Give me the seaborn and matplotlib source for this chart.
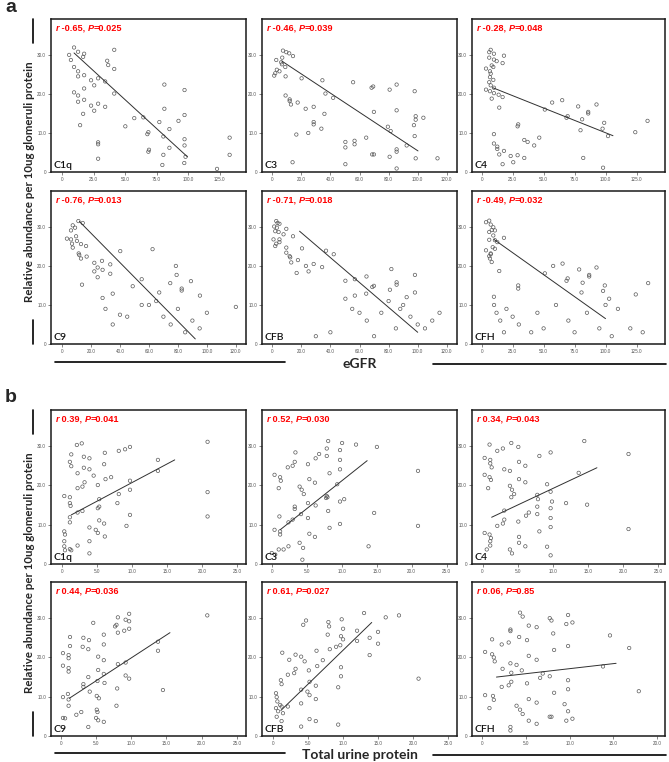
import numpy as np
import pandas as pd
import matplotlib
matplotlib.use('Agg')
import matplotlib.pyplot as plt
import seaborn as sns
from matplotlib.offsetbox import TextArea, HPacker, AnchoredOffsetbox
from matplotlib.lines import Line2D

sns.set_style('white')
plt.rcParams['font.family'] = ['Liberation Sans', 'DejaVu Sans']

# ---- panel a: eGFR ----
a_c1q_x = [9.5, 12.7, 17.5, 5.6, 7, 9.5, 12.7, 12.7, 17.5, 16.7, 23, 28.6, 25.5, 35.8, 36.6, 41.4, 41.4, 34.2, 41.4, 9.5,
           12.7, 12.7, 17.5, 17.5, 16.7, 23, 25.5, 28.6, 34.2, 14.3, 28.6, 28.6, 50.2, 57.3, 64.5, 68.5, 67.7, 77.2, 81.2, 81.2,
           85.2, 80.4, 92.4, 97.2, 97.2, 97.2, 97.2, 68.5, 69, 80.4, 85.2, 98, 133, 133, 28.6, 79.6, 97, 123]
a_c1q_y = [31.9, 30.8, 30.3, 30, 28.7, 26.9, 25.8, 24.5, 24.8, 29.5, 23.5, 24, 22.2, 28.5, 27.4, 31.3, 26.4, 23.2, 20.1, 20.4,
           19.6, 18, 18.5, 21.4, 14.9, 17, 15.7, 17.5, 16.7, 12, 7.6, 7.1, 11.7, 13.8, 14, 10.2, 9.7, 12.8, 22.4, 16.2,
           11, 9.1, 13.1, 21, 14.6, 8.4, 6.8, 5.2, 5.7, 4.4, 6.2, 3.9, 8.8, 4.4, 3.4, 1.8, 2.3, 0.8]
a_c1q_fit = ([9.5, 99.5], [30.5, 3.9])

a_c3_x = [7.4, 9.7, 11.7, 14.3, 2.8, 6.9, 6.2, 6.7, 9, 3.2, 2.1, 5, 1.4, 9.2, 20.2, 34.5, 55.6, 69.4, 68.3, 85.5,
          80.7, 97.9, 9.2, 12, 12, 12.9, 17.5, 23, 28.5, 36.6, 41.9, 35.9, 28.5, 28.5, 33.8, 24.8, 16.6, 69.9, 85.5, 79.5,
          81.4, 98.6, 98.6, 103.9, 97.4, 97.9, 64.6, 50.3, 50.3, 56.6, 56.6, 85.5, 85.5, 92.4, 68.7, 69.9, 80.7, 98.6, 113.6, 14,
          50.3, 85.5]
a_c3_y = [31.1, 30.7, 30.4, 29.7, 28.7, 29.3, 28.1, 27.6, 26.9, 26.2, 25.3, 25.8, 24.7, 24.5, 24, 23.5, 23, 21.9, 21.6, 22.4,
          21.1, 20.7, 19.6, 18.6, 18.2, 17.3, 17.8, 16.2, 16.7, 20.1, 19, 14.9, 12.8, 12.2, 11.1, 10, 9.6, 15.4, 15.8, 11.6,
          10.5, 14.3, 13.4, 13.9, 12, 9.2, 8.8, 7.7, 6.3, 8, 7.1, 5.8, 5.2, 6.8, 4.5, 4.5, 3.9, 3.5, 3.5, 2.5,
          2, 0.9]
a_c3_fit = ([6.7, 100.2], [28.4, 5.4])

a_c4_x = [7.3, 6.1, 9.9, 18, 6.1, 9.9, 12.1, 16.9, 8.1, 9.4, 3.5, 6.7, 7.3, 9.4, 6.7, 6.1, 7.3, 9.9, 3.5, 6.7,
          9.9, 13.7, 16.9, 8.1, 14.2, 56.9, 65, 51, 69.4, 68.5, 77.9, 86, 86, 92.7, 81.1, 98.9, 97.6, 79.8, 102, 124,
          133.9, 29.5, 29, 9.9, 9.9, 12.6, 12.6, 18, 14.2, 23.4, 29, 34.4, 34.4, 37.1, 42.4, 46.5, 82, 16.9, 25.5, 98]
a_c4_y = [31.3, 30.7, 30.3, 29.8, 29.3, 28.8, 28.4, 27.9, 27.3, 26.9, 26.5, 25.8, 25.2, 23.6, 24.3, 23, 22.2, 21.6, 21.1, 20.7,
          20.2, 19.8, 19.2, 18.8, 16.5, 17.8, 18.4, 16, 14.3, 13.9, 16.8, 15.4, 15, 17.3, 13.5, 12.6, 11.1, 10.7, 9.2, 10.2,
          13.1, 12.2, 11.7, 9.7, 7.3, 6.5, 5.9, 5.4, 4.5, 4.1, 4.3, 3.6, 8.2, 7.7, 6.8, 8.8, 3.6, 2, 2.5, 1.1]
a_c4_fit = ([8.9, 106], [21.6, 9.3])

a_c9_x = [11.3, 14.3, 7.4, 9, 6.2, 3.4, 6.2, 9.7, 6.9, 10.3, 13.1, 16.6, 7.4, 11.5, 13.1, 17, 11.9, 22.3, 27.6, 33.3,
          24.6, 22.3, 28, 24.6, 33.3, 40.2, 62.5, 13.8, 48.8, 55, 35, 28, 67.1, 74.7, 78.6, 79.1, 82.6, 82.6, 89, 95.2,
          60, 45, 30, 35, 70, 80, 90, 95, 100, 85, 55, 120, 40, 75, 65]
a_c9_y = [31.5, 31, 30.4, 29.8, 29.1, 27, 26.8, 27.6, 25.7, 26.4, 25.6, 25.1, 24.7, 23.2, 21.9, 22.4, 22.8, 20.8, 21.3, 20.4,
          19.6, 18.6, 19, 17.1, 18, 23.8, 24.3, 15.2, 14.8, 16.6, 12.9, 11.8, 13.2, 15.6, 20, 17.7, 14.2, 13.7, 16.1, 12.4,
          10, 7, 9, 5, 7, 9, 6, 4, 8, 3, 10, 9.5, 7.5, 5, 11]
a_c9_fit = ([12, 92], [31.4, 1.3])

a_cfb_x = [2.8, 3.7, 5, 1.4, 3.2, 2.1, 4.4, 7.8, 9.7, 0.9, 2.8, 5, 2.1, 5, 14.3, 9.7, 9.7, 12.4, 12, 13.1,
           17.7, 20.5, 16.8, 23.2, 25, 28.5, 34.3, 37, 42.3, 50.3, 56.8, 64.8, 68.8, 69.9, 64.6, 56.8, 50.3, 81.9, 85.5, 85.5,
           80.9, 92.4, 98.1, 98.1, 55, 60, 40, 65, 75, 85, 90, 95, 100, 105, 110, 115, 70, 30, 80, 88]
a_cfb_y = [31.5, 31, 30.8, 30.1, 29.8, 28.9, 28.7, 28.1, 29.5, 26.8, 25.7, 26.1, 25.1, 26.8, 27.6, 24.7, 23.4, 22.2, 22.5, 20.9,
           21.5, 24.5, 18.2, 20, 18.6, 20.5, 19.7, 23.9, 23, 16.2, 16.6, 17.3, 14.6, 14.9, 12.9, 12.4, 11.6, 19.2, 15.8, 15.2,
           13.9, 12, 17.7, 13.2, 9, 8, 3, 6, 8, 4, 10, 7, 5, 4, 6, 8, 2, 2, 11, 9]
a_cfb_fit = ([18.8, 100], [28.9, 3])

a_cfh_x = [6.1, 3.5, 7.3, 9.4, 8.1, 10.7, 6.1, 9.4, 18, 6.1, 10.7, 12.6, 8.9, 10.7, 3.5, 7.3, 6.1, 6.7, 8.1, 7.3,
           14.2, 51, 57.7, 65.3, 69.4, 68.5, 78.7, 81.5, 86.8, 86.8, 92.7, 99.4, 98, 80.6, 124.4, 134.4, 29.5, 29.5, 9.9, 102.9,
           10, 12, 15, 20, 25, 30, 40, 45, 50, 60, 70, 75, 85, 95, 105, 110, 120, 130, 100, 18]
a_cfh_y = [31.6, 31.2, 30.6, 29.9, 29.2, 29.1, 28.7, 27.8, 27.2, 26.7, 26.6, 26.1, 24.8, 24.4, 24, 23.2, 22.5, 21.9, 21, 23,
           18.7, 18.1, 20, 20.6, 16.8, 16.2, 19.1, 15.7, 17.7, 17.3, 19.6, 15, 13.6, 13.2, 12.7, 15.6, 15, 14.2, 12.1, 11.6,
           10, 8, 6, 9, 7, 5, 3, 8, 4, 10, 6, 3, 8, 4, 2, 9, 4, 3, 10, 3]
a_cfh_fit = ([9.9, 100], [26.8, 6.5])

# ---- panel b: total urine protein ----
b_c1q_x = [20.8, 2.1, 2.8, 6.1, 8.1, 9, 9.7, 1.3, 3.1, 3.9, 1.1, 1.3, 3.1, 3.9, 6, 2.2, 4.5, 13.7, 13.7, 7,
           6.2, 9.7, 9.7, 2.2, 2.9, 3.2, 5.1, 8.1, 0.3, 1.1, 1.1, 1.2, 5.3, 7.9, 5.1, 5.3, 2.2, 2.9, 9.7, 9.2,
           1.1, 1.1, 5.3, 6, 20.8, 20.8, 3.9, 4.8, 5.1, 6.1, 0.3, 0.4, 0.3, 0.4, 1.1, 1.3, 2.2, 3.9, 3.9, 0.3]
b_c1q_y = [31.1, 30.3, 30.7, 28.3, 28.8, 29.2, 29.8, 27.9, 27.3, 26.9, 26, 24.9, 24.5, 24.1, 25.4, 23.1, 22.5, 26.5, 23.7, 22.1,
           21.6, 21.2, 18.9, 19.3, 19.7, 20.8, 20.1, 17.8, 17.3, 17, 15.5, 14.8, 16.5, 15.5, 14.2, 14.6, 13.1, 13.5, 12.5, 9.7,
           11.9, 10.6, 11.1, 10.3, 18.3, 12.1, 9.3, 8.7, 7.9, 7, 8.3, 7.5, 4.5, 3.5, 3.8, 3.5, 4.7, 5.8, 2.7, 5.8]
b_c1q_fit = ([1.3, 16.1], [12.5, 26.5])

b_c3_x = [8, 10, 12, 15, 7.8, 9.7, 3.3, 6.7, 6.2, 7.8, 9.7, 3.2, 2.9, 2.2, 5.1, 9.7, 8.2, 20.9, 0.3, 1.1,
          1.2, 5.3, 6.1, 0.9, 3.9, 4.2, 4.5, 9.3, 7.8, 7.9, 7.7, 10.3, 9.7, 5.1, 6.2, 3.2, 3.2, 4.1, 8, 1,
          2.9, 2.3, 5.1, 14.6, 9.7, 8.2, 20.9, 0.3, 1.1, 1.1, 5.3, 6.1, -0.1, 0.9, 1.6, 2.3, 3.9, 4.4, 4.3, 13.8, 0.4]
b_c3_y = [31.3, 30.8, 30.4, 29.8, 29.4, 29, 28.4, 28, 26.9, 27.5, 26.5, 26, 25, 24.6, 25.4, 24.1, 23.1, 23.7, 22.7, 22.1,
          21.2, 21.6, 20.7, 19.3, 19.7, 18.9, 17.8, 20.3, 17.3, 17, 16.8, 16.5, 15.9, 15.5, 14.9, 14.6, 14, 12.7, 13.5, 12.1,
          11.3, 10.6, 11.7, 13, 10.2, 9.2, 9.7, 8.7, 8.3, 7.5, 7.7, 6.9, 2.8, 3.7, 3.7, 4.5, 5.4, 4.1, 1.1, 4.5, 2.4]
b_c3_fit = ([1.1, 13.6], [8.7, 26.3])

b_c4_x = [1, 4.1, 5.1, 2.9, 2.1, 14.5, 9.7, 8.1, 20.8, 0.3, 1.1, 1.1, 1.3, 5.2, 6.1, 3.1, 3.9, 13.7, 0.3, 1,
          1.2, 5.2, 6.1, 9.2, 0.8, 3.9, 4.2, 4.5, 4.1, 9.7, 7.8, 7.9, 9.9, 11.9, 14.9, 7.8, 9.7, 3.1, 6.6, 7.8,
          6.2, 9.7, 3.1, 5.1, 2.9, 2.1, 9.7, 20.8, 0.3, 1, 1.2, 5.2, 8.1, 1.1, 1.1, 0.6, 3.9, 4.2, 5.2, 6.1,
          9.2, 9.7]
b_c4_y = [30.4, 30.8, 29.8, 29.4, 28.8, 31.3, 28.4, 27.5, 28, 27, 26.5, 25.6, 24.6, 26, 25, 24.1, 23.7, 23.2, 22.7, 22.1,
          21.4, 21.6, 20.8, 20.3, 19.3, 19.9, 18.9, 17.8, 17, 18.4, 17.6, 16.5, 15.9, 15.5, 15.1, 14.6, 14.2, 13.6, 13.1, 12.7,
          12.3, 11.7, 11.3, 10.8, 10.3, 9.7, 9.4, 8.9, 7.9, 7.5, 6.6, 6.9, 8.3, 5.8, 4.7, 3.7, 3.7, 2.7, 5.4, 4.5,
          4.4, 2.2]
b_c4_fit = ([1.3, 16.3], [11.9, 24.5])

b_c9_x = [20.8, 9.7, 9.7, 9.2, 8.1, 9, 9.7, 8.1, 7.7, 7.9, 4.6, 6.1, 6.1, 3.2, 4, 3.1, 3.9, 1.3, 1.3, 0.3,
          1.1, 1.1, 5.3, 6.1, 13.8, 13.8, 0.3, 1.1, 1.1, 5.3, 8.1, 9.2, 6.1, 3.9, 9.2, 9.7, 5.2, 6.2, 3.2, 3.2,
          4.1, 8, 14.5, 0.3, 1, 1.1, 1.1, 5.1, 5.4, 5.1, 5.2, 5, 5.3, 6.1, 7.9, 2.2, 2.9, 0.3, 0.6, 3.9]
b_c9_y = [30.7, 31.1, 29.2, 29.6, 30.2, 26.8, 27.3, 26.3, 27.9, 28.3, 28.8, 25.8, 23.3, 25, 24.4, 22.7, 22.1, 25.2, 22.9, 21.1,
          20.6, 19.8, 20.2, 19.3, 24, 21.7, 17.9, 17.3, 16.4, 16.8, 18.3, 18.7, 15.8, 15, 15.4, 14.6, 14, 13.5, 13.2, 12.5,
          11.3, 12.1, 11.7, 9.9, 10.7, 9.3, 7.7, 10.2, 9.6, 6.7, 6.1, 4.6, 4, 3.6, 7.7, 5.4, 6.1, 4.6, 4.5, 2.3]
b_c9_fit = ([1.2, 15.5], [9.6, 26.3])

b_cfb_x = [13, 18, 16.1, 4.7, 4.3, 7.9, 8, 9.8, 10, 12, 15, 7.8, 9.7, 10, 12, 13.8, 15, 9, 8.1, 9.6,
           6.2, 1.3, 3.2, 4, 2.3, 4.5, 13.8, 7.1, 6.3, 3.2, 3, 2.1, 5.1, 9.7, 9.7, 1.1, 1.2, 5.2, 6.1, 4,
           9.3, 20.8, 4.9, 5.2, 6.1, 0.4, 0.5, 0.6, 1, 0.4, 0.7, 1.2, 1.4, 0.5, 1.2, 2.1, 4, 5.2, 6.1, 4,
           9.3]
b_cfb_y = [31.3, 30.7, 30.2, 29.4, 28.3, 29, 27.9, 29.7, 27.3, 26.8, 26.5, 25.8, 25.4, 24.6, 24.2, 25, 23.5, 22.7, 22.1, 23.1,
           21.7, 21.2, 20.7, 20.2, 19.4, 19, 20.6, 19.3, 17.8, 17.1, 16, 15.6, 16.7, 17.5, 15.2, 14.2, 13.2, 13.8, 12.8, 11.8,
           12.4, 14.6, 11.3, 10.4, 9.4, 10.9, 9.9, 8.8, 7.9, 7.1, 6.3, 7.5, 5.8, 4.9, 3.8, 7.5, 8.3, 4.3, 3.8, 2.4,
           2.9]
b_cfb_fit = ([1.1, 14.1], [6.5, 28.9])

b_cfh_x = [4.3, 4.6, 9.8, 7.7, 7.9, 9.6, 10.3, 5.3, 6.2, 3.2, 3.2, 8.1, 4.2, 1.1, 5.1, 3, 2.2, 14.6, 16.8, 8.2,
           9.8, 0.3, 1.1, 1.3, 1.4, 5.3, 6.2, 3.2, 3.9, 2.3, 4.5, 3.3, 6.9, 7.7, 6.6, 13.8, 9.8, 3.3, 3, 2.2,
           5.1, 9.8, 8.2, 0.3, 1.2, 1.3, 5.3, 6.2, 17.9, 0.8, 3.9, 4.3, 4.6, 9.4, 9.8, 10.3, 9.6, 7.7, 7.9, 5.3,
           6.2, 3.2, 3.2]
b_cfh_y = [31.4, 30.4, 30.8, 30, 29.4, 28.5, 28.9, 28.1, 27.7, 27.1, 26.7, 26.1, 25.2, 24.6, 24.4, 23.8, 23.3, 25.6, 22.4, 21.9,
           22.9, 21.4, 20.8, 20, 19, 20.4, 19.4, 18.5, 18.1, 17.1, 16.7, 16.1, 15.9, 15.2, 14.8, 17.7, 14.2, 13.8, 12.9, 12.5,
           13.4, 11.9, 11, 10.4, 10.2, 9.2, 9.4, 8.5, 11.4, 7.1, 7.7, 6.7, 5.6, 8.1, 6.3, 4.4, 3.9, 4.9, 4.9, 3.9,
           3.1, 2.3, 1.4]
b_cfh_fit = ([1.6, 15.3], [15, 18.5])

names = ['C1q', 'C3', 'C4', 'C9', 'CFB', 'CFH']
a_stats = [('-0.65', '0.025'), ('-0.46', '0.039'), ('-0.28', '0.048'),
           ('-0.76', '0.013'), ('-0.71', '0.018'), ('-0.49', '0.032')]
b_stats = [('0.39', '0.041'), ('0.52', '0.030'), ('0.34', '0.043'),
           ('0.44', '0.036'), ('0.61', '0.027'), ('0.06', '0.85')]

a_data = [(a_c1q_x, a_c1q_y, a_c1q_fit), (a_c3_x, a_c3_y, a_c3_fit), (a_c4_x, a_c4_y, a_c4_fit),
          (a_c9_x, a_c9_y, a_c9_fit), (a_cfb_x, a_cfb_y, a_cfb_fit), (a_cfh_x, a_cfh_y, a_cfh_fit)]
b_data = [(b_c1q_x, b_c1q_y, b_c1q_fit), (b_c3_x, b_c3_y, b_c3_fit), (b_c4_x, b_c4_y, b_c4_fit),
          (b_c9_x, b_c9_y, b_c9_fit), (b_cfb_x, b_cfb_y, b_cfb_fit), (b_cfh_x, b_cfh_y, b_cfh_fit)]

ticks_25 = [0, 25, 50, 75, 100, 125]
ticks_20 = [0, 20, 40, 60, 80, 100, 120]
ticks_5 = [0, 5, 10, 15, 20, 25]
ticks_5s = [0, 5, 10, 15, 20]
a_xticks = [ticks_25, ticks_20, ticks_25, ticks_20, ticks_20, ticks_25]
a_xlims = [(-8.8, 146), (-7, 127), (-7.8, 148), (-7.6, 127), (-7, 127), (-7.8, 148)]
b_xticks = [ticks_5, ticks_5, ticks_5, ticks_5, ticks_5, ticks_5s]
b_xlims = [(-1.6, 26.3), (-1.5, 26.5), (-1.5, 26), (-1.4, 26.3), (-1.6, 26.3), (-1.2, 20.9)]
yticks = [0, 10, 20, 30]

W, H = 669, 762
fig = plt.figure(figsize=(W / 100, H / 100), dpi=100)

cols = [(51, 246), (262, 457), (472, 665)]
rows = [(19, 172), (191, 344), (410, 564), (582, 736)]


def fmt(v):
    return '0' if v == 0 else f'{v:.1f}'


def panel(x0, x1, y0, y1, xs, ys, fit, xt, xl, name, stat):
    ax = fig.add_axes([x0 / W, 1 - y1 / H, (x1 - x0) / W, (y1 - y0) / H])
    df = pd.DataFrame({'x': xs, 'y': ys})
    sns.scatterplot(data=df, x='x', y='y', ax=ax, marker='o', s=6,
                    facecolor='none', edgecolor='#5a5a5a', linewidth=0.5)
    sns.lineplot(x=fit[0], y=fit[1], ax=ax, color='#303030', linewidth=0.7)
    ax.set_xlim(*xl)
    ax.set_ylim(0, 39.2)
    ax.set_xticks(xt)
    ax.set_xticklabels([fmt(v) for v in xt])
    ax.set_yticks(yticks)
    ax.set_yticklabels([fmt(v) for v in yticks])
    ax.tick_params(labelsize=3.3, labelcolor='#555555', length=2, width=0.5,
                   color='#555555', pad=1.5, bottom=True, left=True)
    ax.set_xlabel('')
    ax.set_ylabel('')
    for s in ax.spines.values():
        s.set_color('#1a1a1a')
        s.set_linewidth(1.1)
    tp = dict(color='red', weight='bold', size=6.6)
    ip = dict(color='red', weight='bold', size=6.6, style='italic')
    box = HPacker(children=[TextArea('r', textprops=ip), TextArea(' ' + stat[0] + ', ', textprops=tp),
                            TextArea('P', textprops=ip), TextArea('=' + stat[1], textprops=tp)],
                  align='baseline', pad=0, sep=0)
    ab = AnchoredOffsetbox(loc='upper left', child=box, pad=0.1, borderpad=0.25, frameon=False)
    ax.add_artist(ab)
    ax.text(0.015, 0.012, name, transform=ax.transAxes, ha='left', va='bottom',
            fontsize=7.5, family=['Lato', 'DejaVu Sans'], weight='semibold', color='#111111')
    return ax


for i in range(6):
    r, c = divmod(i, 3)
    xs, ys, fit = a_data[i]
    panel(cols[c][0], cols[c][1], rows[r][0], rows[r][1], xs, ys, fit, a_xticks[i], a_xlims[i], names[i], a_stats[i])
    xs, ys, fit = b_data[i]
    panel(cols[c][0], cols[c][1], rows[r + 2][0], rows[r + 2][1], xs, ys, fit, b_xticks[i], b_xlims[i], names[i], b_stats[i])

# panel letters
fig.text(5 / W, 1 - 8 / H, 'a', fontsize=14, weight='bold', va='center', ha='left')
fig.text(5 / W, 1 - 398 / H, 'b', fontsize=14, weight='bold', va='center', ha='left')

# y labels with flanking lines
ylab = 'Relative abundance per 10ug glomeruli protein'
for top, bot in [(19, 344), (410, 736)]:
    fig.text(30 / W, 1 - (top + bot) / 2 / H, ylab, rotation=90, ha='center', va='center',
             fontsize=8.3, weight='bold', family=['Lato', 'DejaVu Sans'])
    fig.add_artist(Line2D([33 / W, 33 / W], [1 - top / H, 1 - (top + 24) / H], color='black', lw=1.2))
    fig.add_artist(Line2D([33 / W, 33 / W], [1 - (bot - 24) / H, 1 - bot / H], color='black', lw=1.2))

# x labels with flanking lines
for yy, lab in [(364, 'eGFR'), (755, 'Total urine protein')]:
    fig.text(360 / W, 1 - yy / H, lab, ha='center', va='center', fontsize=10, weight='bold',
             family=['Lato', 'DejaVu Sans'])
    fig.add_artist(Line2D([55 / W, 285 / W], [1 - (yy - 2) / H] * 2, color='black', lw=1.2))
    fig.add_artist(Line2D([433 / W, 666 / W], [1 - yy / H] * 2, color='black', lw=1.2))

fig.savefig('out.png', dpi=100)
